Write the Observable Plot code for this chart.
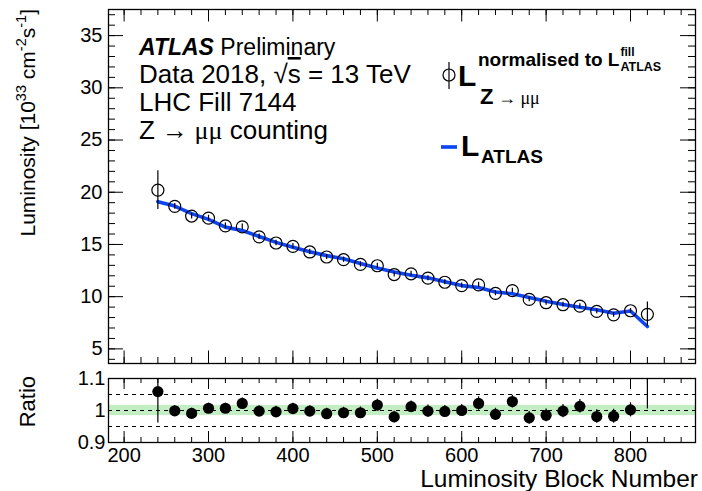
<!DOCTYPE html>
<html>
<head>
<meta charset="utf-8">
<script src="https://cdn.jsdelivr.net/npm/d3@7"></script>
<script src="https://cdn.jsdelivr.net/npm/@observablehq/plot@0.6"></script>
<style>
  body { margin: 0; background: #fff; }
  #chart { position: relative; width: 702px; height: 491px; font-family: "Liberation Sans", Arial, Helvetica, sans-serif; }
  #chart svg { position: absolute; left: 0; overflow: visible; }
</style>
</head>
<body>
<div id="chart"></div>
<script>
// Luminosity blocks of LHC fill 7144 (centres of the 20-LB bins)
const lumiBlock = [240, 260, 280, 300, 320, 340, 360, 380, 400, 420, 440, 460, 480, 500, 520,
                   540, 560, 580, 600, 620, 640, 660, 680, 700, 720, 740, 760, 780, 800, 820];
// Z -> mumu counting luminosity, normalised to the ATLAS fill luminosity [1e33 cm^-2 s^-1]
const lumiZ = [20.2, 18.65, 17.72, 17.52, 16.78, 16.69, 15.73, 15.14, 14.82, 14.28, 13.8, 13.54, 13.09, 12.96, 12.12,
               12.19, 11.77, 11.38, 11.06, 11.13, 10.32, 10.58, 9.74, 9.42, 9.23, 9.1, 8.59, 8.26, 8.65, 8.31];
const lumiZErr = [1.85, 0.28, 0.28, 0.27, 0.27, 0.27, 0.26, 0.26, 0.26, 0.25, 0.25, 0.25, 0.25, 0.25, 0.24,
                  0.24, 0.24, 0.24, 0.24, 0.24, 0.23, 0.23, 0.23, 0.23, 0.23, 0.23, 0.22, 0.22, 0.22, 1.17];
// ATLAS reference luminosity
const lumiAtlas = [19.1, 18.68, 17.95, 17.4, 16.66, 16.33, 15.76, 15.2, 14.73, 14.3, 13.93, 13.63, 13.18, 12.75, 12.37,
                   12.05, 11.8, 11.42, 11.06, 10.88, 10.45, 10.28, 9.92, 9.56, 9.25, 8.98, 8.75, 8.42, 8.63, 7.14];
// Ratio Z-counting / ATLAS
const ratio = [1.059, 0.999, 0.991, 1.007, 1.007, 1.022, 0.998, 0.996, 1.006, 0.998, 0.990, 0.993, 0.993, 1.017, 0.980,
               1.012, 0.998, 0.997, 1.000, 1.022, 0.988, 1.028, 0.977, 0.985, 0.998, 1.013, 0.981, 0.982, 1.002, 1.167];
const ratioErr = [0.098, 0.016, 0.016, 0.016, 0.016, 0.017, 0.016, 0.017, 0.017, 0.017, 0.017, 0.017, 0.018, 0.018, 0.018,
                  0.018, 0.019, 0.019, 0.019, 0.021, 0.019, 0.02, 0.02, 0.02, 0.021, 0.021, 0.021, 0.022, 0.022, 0.162];

// Axis ticks
const xTickLabels = [200, 300, 400, 500, 600, 700, 800];
const xMinorTicks = d3.range(200, 880, 20);
const yTickLabels = [5, 10, 15, 20, 25, 30, 35];
const yMinorTicks = d3.range(4, 38, 1);
const ratioTickLabels = [0.9, 1, 1.1];
const ratioRefLines = [0.95, 1, 1.05];
const ratioBand = 0.016;

const rows = lumiBlock.map((lb, i) => ({
  lb, z: lumiZ[i], zErr: lumiZErr[i], atlas: lumiAtlas[i], ratio: ratio[i], rErr: ratioErr[i]
}));

const font = '"Liberation Sans", Arial, Helvetica, sans-serif';
const symbolFont = '"Liberation Serif", "DejaVu Serif", serif';
const blue = "#0b45f4";

const W = 702;
const xDomain = [181.5, 877];
const mL = 108, mR = 7;
const innerW = W - mL - mR;

// ---- upper panel ----
const mainH = 370, mainTop = 9, mainBottom = 7;
const mainInnerH = mainH - mainTop - mainBottom;

const main = Plot.plot({
  width: W, height: mainH,
  marginTop: mainTop, marginBottom: mainBottom, marginLeft: mL, marginRight: mR,
  style: { fontFamily: font, fontSize: "20px", color: "black", background: "transparent", overflow: "visible" },
  x: { domain: xDomain, axis: null },
  y: { domain: [3.6, 37.5], ticks: yTickLabels, tickSize: 0, tickPadding: 6, label: null },
  marks: [
    Plot.line(rows, { x: "lb", y: "atlas", stroke: blue, strokeWidth: 3.6, clip: true }),
    Plot.ruleX(rows, { x: "lb", y1: d => d.z - d.zErr, y2: d => d.z + d.zErr, stroke: "black", strokeWidth: 1.2 }),
    Plot.dot(rows, { x: "lb", y: "z", r: 6, stroke: "black", strokeWidth: 1.2, fill: "none" }),
    // inward ticks on all four sides
    Plot.tickX(xTickLabels, { x: d => d, insetTop: mainInnerH - 12.5, stroke: "black" }),
    Plot.tickX(xMinorTicks, { x: d => d, insetTop: mainInnerH - 6, stroke: "black" }),
    Plot.tickX(xTickLabels, { x: d => d, insetBottom: mainInnerH - 12.5, stroke: "black" }),
    Plot.tickX(xMinorTicks, { x: d => d, insetBottom: mainInnerH - 6, stroke: "black" }),
    Plot.tickY(yTickLabels, { y: d => d, insetRight: innerW - 15, stroke: "black" }),
    Plot.tickY(yMinorTicks, { y: d => d, insetRight: innerW - 7, stroke: "black" }),
    Plot.tickY(yTickLabels, { y: d => d, insetLeft: innerW - 15, stroke: "black" }),
    Plot.tickY(yMinorTicks, { y: d => d, insetLeft: innerW - 7, stroke: "black" }),
    Plot.frame({ stroke: "black", strokeWidth: 1.3 })
  ]
});

// ---- ratio panel ----
const ratioH = 121, ratioTop = 8, ratioBottom = 49;
const ratioInnerH = ratioH - ratioTop - ratioBottom;

const lower = Plot.plot({
  width: W, height: ratioH,
  marginTop: ratioTop, marginBottom: ratioBottom, marginLeft: mL, marginRight: mR,
  style: { fontFamily: font, fontSize: "20px", color: "black", background: "transparent", overflow: "visible" },
  x: { domain: xDomain, ticks: xTickLabels, tickSize: 0, tickPadding: 5, label: null, tickFormat: d => String(d) },
  y: { domain: [0.9, 1.1], ticks: ratioTickLabels, tickSize: 0, tickPadding: 3, label: null,
       tickFormat: d => (d === 1 ? "1" : d.toFixed(1)) },
  marks: [
    Plot.rect([ratioBand], { x1: xDomain[0], x2: xDomain[1], y1: d => 1 - d, y2: d => 1 + d, fill: "#c3eec3" }),
    Plot.ruleY(ratioRefLines, { y: d => d, stroke: "black", strokeWidth: 1, strokeDasharray: "4,4" }),
    Plot.ruleX(rows, { x: "lb", y1: d => d.ratio - d.rErr, y2: d => d.ratio + d.rErr, stroke: "black", strokeWidth: 1.2, clip: true }),
    Plot.dot(rows, { x: "lb", y: "ratio", r: 5.6, fill: "black", clip: true }),
    Plot.tickX(xTickLabels, { x: d => d, insetTop: ratioInnerH - 11, stroke: "black" }),
    Plot.tickX(xMinorTicks, { x: d => d, insetTop: ratioInnerH - 5, stroke: "black" }),
    Plot.tickX(xTickLabels, { x: d => d, insetBottom: ratioInnerH - 11, stroke: "black" }),
    Plot.tickX(xMinorTicks, { x: d => d, insetBottom: ratioInnerH - 5, stroke: "black" }),
    Plot.frame({ stroke: "black", strokeWidth: 1.3 })
  ]
});

const chart = document.getElementById("chart");
main.style.top = "0px";
lower.style.top = mainH + "px";
chart.appendChild(main);
chart.appendChild(lower);

// rich-text helper: each part is a tspan with its own font settings
function richText(svg, x, y, parts, opts = {}) {
  const t = d3.select(svg).append("text")
    .attr("x", x).attr("y", y)
    .attr("font-family", font)
    .attr("font-size", opts.size || 20)
    .attr("text-anchor", opts.anchor || "start")
    .attr("fill", "black");
  if (opts.transform) t.attr("transform", opts.transform);
  for (const p of parts) {
    const s = t.append("tspan").text(p.t);
    if (p.size) s.attr("font-size", p.size);
    if (p.weight) s.attr("font-weight", p.weight);
    if (p.italic) s.attr("font-style", "italic");
    if (p.family) s.attr("font-family", p.family);
    if (p.dy != null) s.attr("dy", p.dy);
    if (p.deco) s.style("text-decoration", p.deco);
  }
  return t.node();
}

// axis titles
richText(main, 0, 0, [
  { t: "Luminosity [10" },
  { t: "33", size: 14.5, dy: -9 },
  { t: " cm", dy: 9 },
  { t: "-2", size: 14.5, dy: -9 },
  { t: "s", dy: 9 },
  { t: "-1", size: 14.5, dy: -9 },
  { t: "]", dy: 9 }
], { size: 21, anchor: "end", transform: "translate(35,9) rotate(-90)" });

richText(lower, 0, 0, [{ t: "Ratio" }], { size: 22, anchor: "end", transform: "translate(34.5,6) rotate(-90)" });
richText(lower, 698, 117, [{ t: "Luminosity Block Number" }], { size: 24.5, anchor: "end" });

// annotation block
const tx = 139;
richText(main, tx, 55, [{ t: "ATLAS", weight: "bold", italic: true }, { t: " Preliminary" }], { size: 23 });
richText(main, tx, 83, [
  { t: "Data 2018, " },
  { t: "√" },
  { t: "s", deco: "overline" },
  { t: " = 13 TeV" }
], { size: 26 });
richText(main, tx, 111, [{ t: "LHC Fill 7144" }], { size: 26 });
richText(main, tx, 139, [
  { t: "Z " },
  { t: "→ ", family: symbolFont },
  { t: "μμ", family: symbolFont },
  { t: " counting" }
], { size: 26 });

// legend
const leg = d3.select(main);
leg.append("line").attr("x1", 449).attr("x2", 449).attr("y1", 62).attr("y2", 89)
  .attr("stroke", "black").attr("stroke-width", 1.2);
leg.append("circle").attr("cx", 449).attr("cy", 75).attr("r", 6)
  .attr("fill", "none").attr("stroke", "black").attr("stroke-width", 1.2);
richText(main, 458, 86, [{ t: "L", weight: "bold" }], { size: 30 });
const norm = richText(main, 478, 66, [{ t: "normalised to L", weight: "bold" }], { size: 19 });
const nx = 478 + norm.getComputedTextLength() + 1;
richText(main, nx, 56, [{ t: "fill", weight: "bold" }], { size: 12 });
richText(main, nx, 71, [{ t: "ATLAS", weight: "bold" }], { size: 12.5 });
richText(main, 480, 104, [
  { t: "Z", weight: "bold" },
  { t: " → μμ", family: symbolFont, size: 18 }
], { size: 22 });

leg.append("line").attr("x1", 441).attr("x2", 457).attr("y1", 147).attr("y2", 147)
  .attr("stroke", blue).attr("stroke-width", 3.6);
richText(main, 461, 156, [{ t: "L", weight: "bold" }], { size: 30 });
richText(main, 481, 163, [{ t: "ATLAS", weight: "bold" }], { size: 19 });
</script>
</body>
</html>
